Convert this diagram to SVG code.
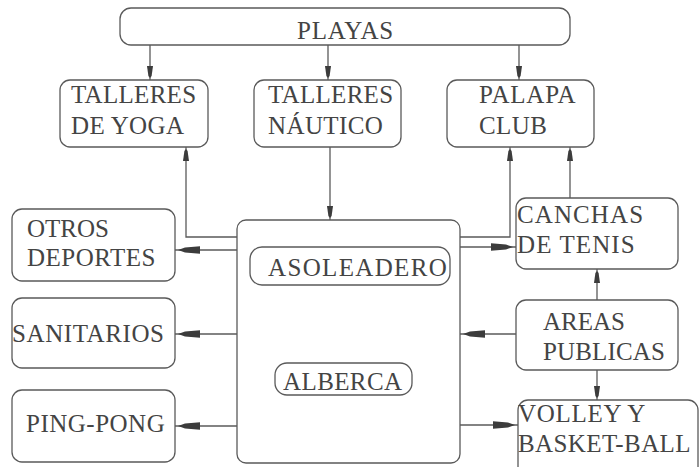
<svg xmlns="http://www.w3.org/2000/svg" width="700" height="467" viewBox="0 0 700 467">
<style>
.box{fill:#fff;stroke:#5a5a5a;stroke-width:1.3}
.c{fill:none;stroke:#5a5a5a;stroke-width:1.3}
.big{marker-end:url(#ah)}
.sm{marker-end:url(#as)}
</style>
<defs>
<marker id="ah" viewBox="-26 -5 27 10" refX="0" refY="0" markerWidth="27" markerHeight="10" markerUnits="userSpaceOnUse" orient="auto" overflow="visible">
<path d="M-3,0 L-10,-2.5 L-25,-3.8 L-25,3.8 L-10,2.5 Z" fill="#3c3c3c"/>
</marker>
<marker id="as" viewBox="-16 -4 17 8" refX="0" refY="0" markerWidth="17" markerHeight="8" markerUnits="userSpaceOnUse" orient="auto" overflow="visible">
<path d="M-2,0 L-4,-1.6 L-14,-3 L-14,3 L-4,1.6 Z" fill="#3c3c3c"/>
</marker>
</defs>
<rect width="700" height="467" fill="#fff"/>
<g id="connectors">
<path class="c sm" d="M150,45 V80"/>
<path class="c sm" d="M328,45 V80"/>
<path class="c sm" d="M519,45 V80"/>
<path class="c sm" d="M330,147 V220"/>
<path class="c sm" d="M237,237 H186 V147"/>
<path class="c sm" d="M460,237 H510 V147"/>
<path class="c sm" d="M570,198 V147"/>
<path class="c big" d="M237,250 H175"/>
<path class="c big" d="M237,334 H175"/>
<path class="c big" d="M237,426 H175"/>
<path class="c big" d="M460,247 H516"/>
<path class="c big" d="M516,334 H460"/>
<path class="c big" d="M460,425 H518"/>
<path class="c sm" d="M597,300 V269"/>
<path class="c sm" d="M597,370 V400"/>
</g>
<g id="playas">
<rect class="box" x="120" y="8" width="450" height="37" rx="11"/>
<text font-family="Liberation Serif" font-size="25" fill="#444" x="297" y="39" letter-spacing="0.8">PLAYAS</text>
</g>
<g id="talleres-yoga">
<rect class="box" x="60" y="80" width="148" height="67" rx="10"/>
<text font-family="Liberation Serif" font-size="25" fill="#444" x="71" y="103" letter-spacing="0.3">TALLERES</text>
<text font-family="Liberation Serif" font-size="25" fill="#444" x="71" y="134" letter-spacing="0.35">DE YOGA</text>
</g>
<g id="talleres-nautico">
<rect class="box" x="254" y="80" width="147" height="67" rx="10"/>
<text font-family="Liberation Serif" font-size="25" fill="#444" x="268" y="103" letter-spacing="0.3">TALLERES</text>
<text font-family="Liberation Serif" font-size="25" fill="#444" x="268" y="134" letter-spacing="0.4">NÁUTICO</text>
</g>
<g id="palapa-club">
<rect class="box" x="447" y="80" width="147" height="67" rx="10"/>
<text font-family="Liberation Serif" font-size="25" fill="#444" x="479" y="103" letter-spacing="0.8">PALAPA</text>
<text font-family="Liberation Serif" font-size="25" fill="#444" x="479" y="134" letter-spacing="0.4">CLUB</text>
</g>
<g id="alberca-area">
<rect class="box" x="237" y="220" width="223" height="243" rx="9"/>
</g>
<g id="asoleadero">
<rect class="box" x="250" y="247" width="200" height="38" rx="12"/>
<text font-family="Liberation Serif" font-size="25" fill="#444" x="268" y="276" letter-spacing="1.35">ASOLEADERO</text>
</g>
<g id="alberca">
<rect class="box" x="275" y="363" width="137" height="32" rx="12"/>
<text font-family="Liberation Serif" font-size="25" fill="#444" x="283" y="390" letter-spacing="0.4">ALBERCA</text>
</g>
<g id="otros-deportes">
<rect class="box" x="12" y="209" width="163" height="72" rx="10"/>
<text font-family="Liberation Serif" font-size="25" fill="#444" x="27" y="237">OTROS</text>
<text font-family="Liberation Serif" font-size="25" fill="#444" x="27" y="266" letter-spacing="0.5">DEPORTES</text>
</g>
<g id="sanitarios">
<rect class="box" x="12" y="298" width="163" height="70" rx="10"/>
<text font-family="Liberation Serif" font-size="25" fill="#444" x="12" y="342" letter-spacing="0.6">SANITARIOS</text>
</g>
<g id="ping-pong">
<rect class="box" x="12" y="390" width="163" height="72" rx="10"/>
<text font-family="Liberation Serif" font-size="25" fill="#444" x="26" y="432" letter-spacing="0.5">PING-PONG</text>
</g>
<g id="canchas-tenis">
<rect class="box" x="516" y="198" width="162" height="71" rx="10"/>
<text font-family="Liberation Serif" font-size="25" fill="#444" x="517" y="223" letter-spacing="1.1">CANCHAS</text>
<text font-family="Liberation Serif" font-size="25" fill="#444" x="517" y="253" letter-spacing="1.1">DE TENIS</text>
</g>
<g id="areas-publicas">
<rect class="box" x="516" y="300" width="162" height="70" rx="10"/>
<text font-family="Liberation Serif" font-size="25" fill="#444" x="543" y="330">AREAS</text>
<text font-family="Liberation Serif" font-size="25" fill="#444" x="543" y="360" letter-spacing="0.15">PUBLICAS</text>
</g>
<g id="volley-basket">
<rect class="box" x="518" y="400" width="180" height="80" rx="10"/>
<text font-family="Liberation Serif" font-size="25" fill="#444" x="518" y="422" letter-spacing="0.7">VOLLEY Y</text>
<text font-family="Liberation Serif" font-size="25" fill="#444" x="518" y="452" letter-spacing="0.4">BASKET-BALL</text>
</g>
</svg>
